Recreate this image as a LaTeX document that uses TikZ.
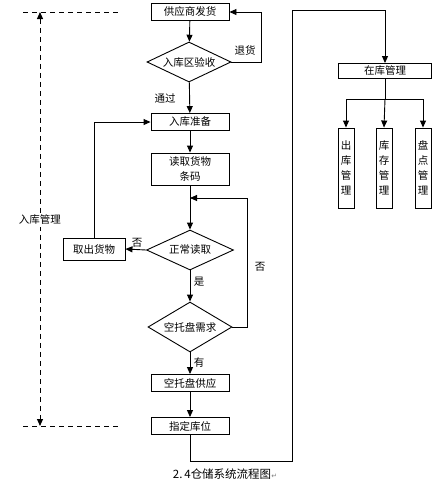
\documentclass[tikz,border=0pt]{standalone}
\usepackage{fontspec}
\setmainfont{Noto Sans CJK SC}
\newfontfamily\symfont{DejaVu Sans}
\usetikzlibrary{shapes.geometric,arrows.meta}

\begin{document}
\begin{tikzpicture}[x=1pt,y=-1pt,line width=0.9pt,
            >={Triangle[length=7pt,width=6pt]},
            font=\fontsize{10.5}{12}\selectfont,
            box/.style={draw,minimum width=78pt,minimum height=17pt,inner sep=1pt},
            choice/.style={draw,diamond,aspect=2.1,minimum width=84pt,minimum height=40pt,inner sep=0pt},
            tall/.style={draw,minimum width=16pt,minimum height=80pt,inner sep=1pt,align=center,
                font=\fontsize{10.5}{15}\selectfont},
            bound/.style={dashed,dash pattern=on 5pt off 4pt,line width=1pt}]
            \useasboundingbox (0,0) rectangle (441,485);
            \node[box] (supply) at (190,12) {供应商发货};
            \node[choice] (check) at (189,62) {入库区验收};
            \node[box] (prep) at (190,122) {入库准备};
            \node[box,minimum height=32pt,align=center,font=\fontsize{10.5}{15}\selectfont] (scan) at (190,169) {读取货物\\条码};
            \node[choice,minimum width=87pt] (read) at (190,250) {正常读取};
            \node[box,minimum width=62pt,minimum height=22pt] (takeout) at (94,249) {取出货物};
            \node[choice,minimum height=50pt] (pallet) at (190,327) {空托盘需求};
            \node[box] (supplypallet) at (190,383) {空托盘供应};
            \node[box] (assign) at (190,426) {指定库位};
            \node[box,minimum width=93pt,minimum height=15pt] (store) at (385,71) {在库管理};
            \node[tall] (out) at (346,168) {出\\库\\管\\理};
            \node[tall] (stock) at (384,168) {库\\存\\管\\理};
            \node[tall] (count) at (423,168) {盘\\点\\管\\理};

            \coordinate (join) at (190,198);
            \coordinate (turn) at (292,10);

            \draw[->] (supply) -- (check);
            \draw[->] (check.east) -- ++(30,0) |- (supply.east);
            \node (back) at (245,50) {退货};
            \draw[->] (check) -- (prep);
            \node (pass) at (165,98) {通过};
            \draw[->] (prep) -- (scan);
            \draw[->] (scan.south) -- (read.north);
            \draw[->] (read.west) -- (takeout.east);
            \node (no1) at (137,243) {否};
            \draw[->] (takeout.north) |- (prep.west);
            \draw[->] (read) -- (pallet);
            \node (yes) at (199,282) {是};
            \draw[->] (pallet.east) -- ++(15,0) |- (join);
            \node (no2) at (260,267) {否};
            \draw[->] (pallet) -- (supplypallet);
            \node (have) at (199,362) {有};
            \draw[->] (supplypallet) -- (assign);
            \draw[->] (assign.south) -- ++(0,26) -| (turn) -| (store.north);
            \draw (store.south) -- ++(0,20) coordinate (branch);
            \draw[->] (branch) -| (out.north);
            \draw[->] (branch) -- (stock.north);
            \draw[->] (branch) -| (count.north);

            \coordinate (top) at (40,12);
            \coordinate (bottom) at (40,426);
            \draw[bound] (23,12) -- (118,12);
            \draw[bound] (23,426) -- (118,426);
            \draw[bound,<->] (top) -- (bottom);
            \node[fill=white,inner sep=2pt] (inbound) at (40,220) {入库管理};

            \node (caption) at (225,474) {\fontsize{11.5}{13}\selectfont 2.\,4仓储系统流程图{\symfont\color{gray}\fontsize{7}{8}\selectfont ↵}};
\end{tikzpicture}
\end{document}
